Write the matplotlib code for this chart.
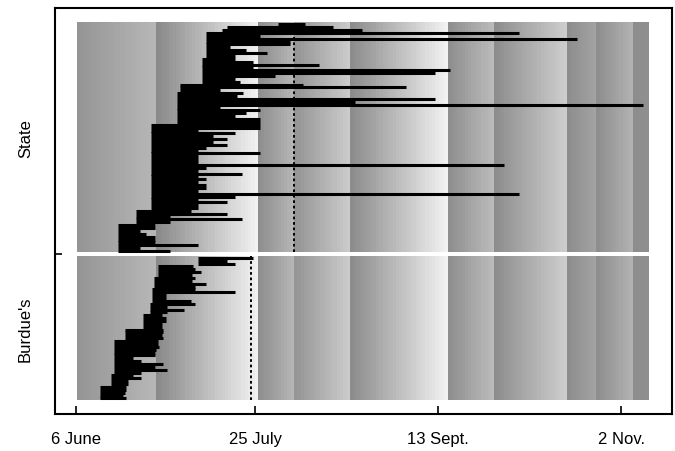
import numpy as np
import matplotlib.pyplot as plt
from matplotlib.transforms import blended_transform_factory

plt.rcParams['font.family'] = ['Liberation Sans', 'DejaVu Sans']

# x axis is days counted from 6 June
tick_days = [0, 49, 99, 149]
tick_labels = ['6 June', '25 July', '13 Sept.', '2 Nov.']

# grey background bands: edges (days), grey level at band start and band end
band_edges = [0.4, 22.4, 50.0, 60.1, 75.1, 101.9, 114.8, 134.7, 142.6, 152.5, 156.6]
band_lo = [0.58, 0.54, 0.55, 0.58, 0.54, 0.55, 0.55, 0.55, 0.55, 0.55]
band_hi = [0.72, 0.95, 0.72, 0.80, 0.95, 0.74, 0.81, 0.64, 0.70, 0.56]

# State: one row per record, bottom to top (start day, end day)
state_start = ([11.5] * 10 + [16.4] * 5 + [20.5] * 30 + [27.6] * 11 + [28.4] * 3
               + [34.4] * 9 + [35.5] * 9 + [40.0, 41.3, 55.2])
state_end = [25.7, 17.5, 33.3, 21.6, 21.6, 21.6, 19.0, 17.5, 21.6, 21.6,
             25.7, 45.4, 25.7, 41.4, 31.3, 33.3, 33.3, 41.4, 33.3, 43.4,
             121.0, 33.3, 35.4, 35.4, 33.3, 35.4, 33.3, 45.4, 33.3, 35.4,
             116.9, 33.3, 33.3, 33.3, 50.3, 33.3, 35.4, 41.4, 37.5, 41.4,
             37.5, 43.4, 33.3, 50.3, 50.3, 50.3, 50.3, 43.4, 46.6, 50.3,
             39.3, 154.9, 76.2, 98.1, 43.9, 45.6, 39.3, 90.2, 62.0, 44.8,
             43.4, 54.4, 98.1, 102.2, 48.4, 66.4, 48.4, 43.4, 43.4, 52.2,
             46.6, 42.0, 58.5, 58.5, 136.9, 50.3, 121.0, 78.1, 70.2, 62.6]

# Burdue's
burdue_start = ([6.6] * 5 + [9.6] * 4 + [10.5] * 12 + [13.4] * 4 + [18.4] * 5
                + [20.2] * 4 + [20.7] * 5 + [21.4] * 4 + [22.5] * 4 + [33.4] * 3)
burdue_end = [13.6, 12.9, 13.4, 13.6, 13.6, 14.3, 14.3, 17.7, 15.5, 17.9,
              24.8, 21.6, 23.7, 17.9, 15.5, 21.6, 21.6, 22.0, 22.7, 22.5,
              22.5, 23.7, 23.4, 23.7, 23.7, 23.4, 23.4, 24.6, 24.6, 23.4,
              24.8, 29.6, 24.8, 32.5, 31.3, 24.6, 24.6, 43.4, 32.5, 32.5,
              35.4, 31.6, 32.5, 31.6, 34.3, 32.5, 32.1, 43.4, 41.2, 48.5]

state_mark = 59.6
burdue_mark = 47.8


def band_strip(step=0.9):
    days = np.arange(band_edges[0], band_edges[-1], step) + step / 2
    vals = np.full(days.shape, band_lo[-1])
    for k in range(len(band_lo)):
        a, b = band_edges[k], band_edges[k + 1]
        m = (days >= a) & (days < b)
        vals[m] = band_lo[k] + (band_hi[k] - band_lo[k]) * (days[m] - a) / (b - a)
    return vals[np.newaxis, :]


nb = len(burdue_start)
ns = len(state_start)
y_bur = np.arange(nb)
y_state = nb + 1.4 + np.arange(ns)
bur_lim = (-0.5, nb - 0.5)
state_lim = (nb + 0.9, nb + 0.9 + ns)

fig = plt.figure(figsize=(6.75, 4.52), dpi=100)
ax = fig.add_axes([0.0815, 0.082, 0.914, 0.898])

strip = band_strip()
for lo, hi in (bur_lim, state_lim):
    ax.imshow(strip, cmap='gray', vmin=0, vmax=1, aspect='auto',
              interpolation='nearest',
              extent=[band_edges[0], band_edges[-1], lo, hi])

ax.hlines(y_state, state_start, state_end, color='black', linewidth=2.2)
ax.hlines(y_bur, burdue_start, burdue_end, color='black', linewidth=2.2)

ax.vlines(state_mark, state_lim[0], state_lim[1], color='black',
          linewidth=1.4, linestyles=(0, (1.4, 1.4)))
ax.vlines(burdue_mark, bur_lim[0], bur_lim[1], color='black',
          linewidth=1.4, linestyles=(0, (1.4, 1.4)))

ax.set_xlim(-5.74, 162.9)
ax.set_ylim(-5.4, 136.1)

ax.set_xticks(tick_days)
ax.set_xticklabels(tick_labels, fontsize=12)
ax.set_yticks([nb + 0.2])
ax.set_yticklabels([])
ax.tick_params(direction='in', length=5.8, width=1.2, pad=12)
ax.tick_params(axis='y', length=5.0)
for sp in ax.spines.values():
    sp.set_linewidth(1.5)

trans = blended_transform_factory(ax.transAxes, ax.transData)
ax.text(-0.048, np.mean(state_lim), 'State', rotation=90, transform=trans,
        ha='center', va='center', fontsize=12)
ax.text(-0.048, np.mean(bur_lim), "Burdue's", rotation=90, transform=trans,
        ha='center', va='center', fontsize=12)

fig.savefig('out.png', dpi=100)
